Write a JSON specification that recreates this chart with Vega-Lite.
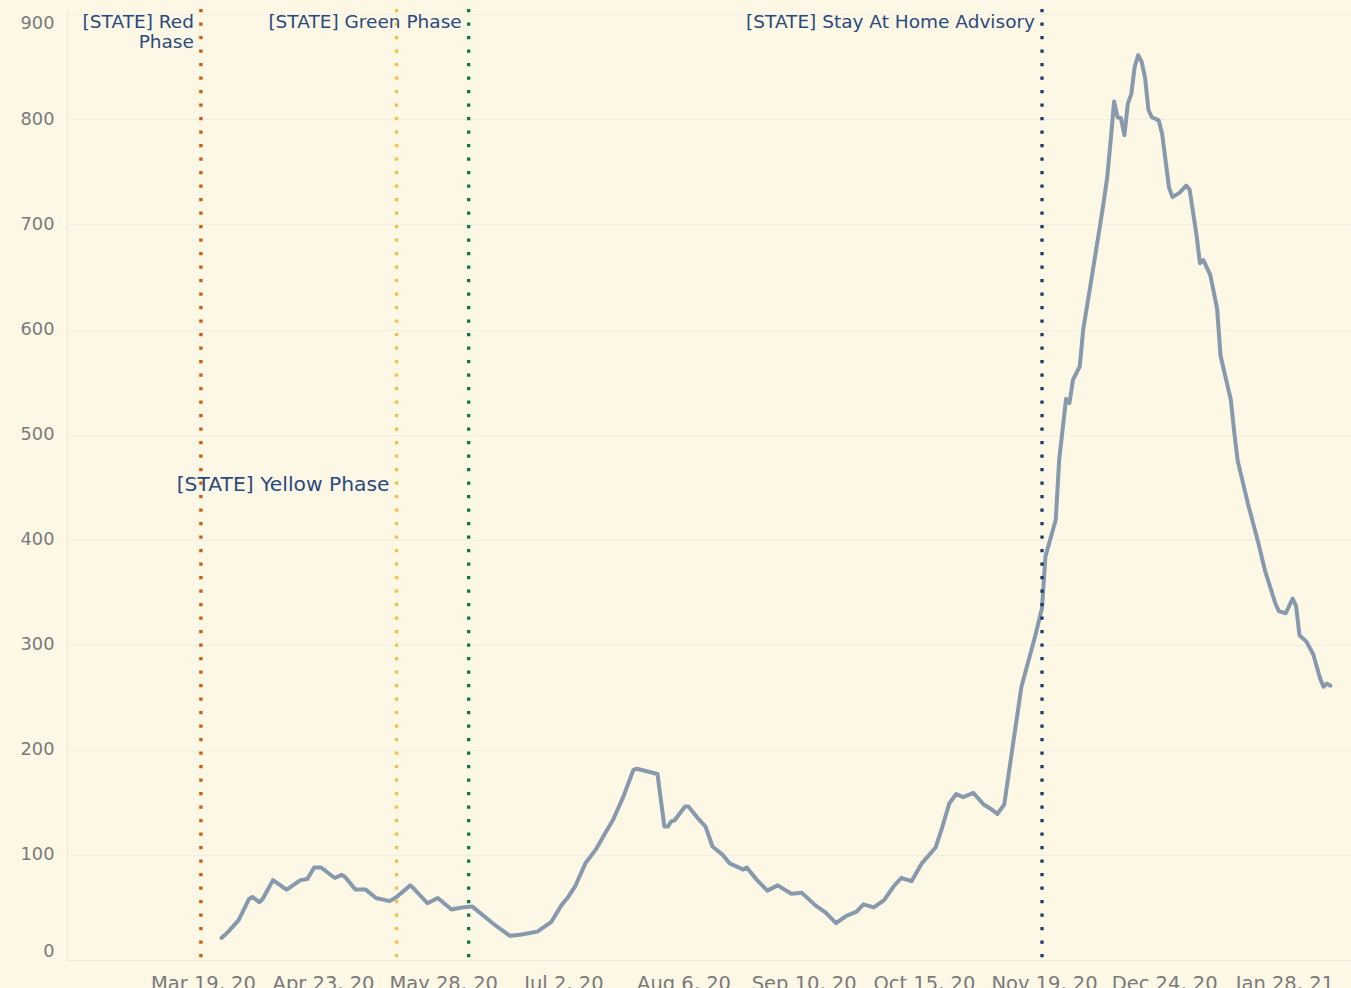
{
  "$schema": "https://vega.github.io/schema/vega-lite/v6.json",
  "width": 1284,
  "height": 951,
  "autosize": {"type": "none"},
  "padding": {"left": 67, "top": 9, "right": 0, "bottom": 28},
  "background": "#fdf7e5",
  "config": {"view": {"stroke": null}, "font": "DejaVu Sans"},
  "datasets": {
    "cases": [
      {"date": "2020-03-25", "value": 21}, {"date": "2020-03-27", "value": 27}, {"date": "2020-03-30", "value": 38},
      {"date": "2020-04-02", "value": 58}, {"date": "2020-04-03", "value": 60}, {"date": "2020-04-05", "value": 55},
      {"date": "2020-04-06", "value": 58}, {"date": "2020-04-09", "value": 76}, {"date": "2020-04-12", "value": 69},
      {"date": "2020-04-13", "value": 67}, {"date": "2020-04-17", "value": 76}, {"date": "2020-04-19", "value": 77},
      {"date": "2020-04-21", "value": 88}, {"date": "2020-04-23", "value": 88}, {"date": "2020-04-27", "value": 78},
      {"date": "2020-04-29", "value": 81}, {"date": "2020-04-30", "value": 79}, {"date": "2020-05-03", "value": 67},
      {"date": "2020-05-06", "value": 67}, {"date": "2020-05-09", "value": 59}, {"date": "2020-05-13", "value": 56},
      {"date": "2020-05-15", "value": 60}, {"date": "2020-05-19", "value": 71}, {"date": "2020-05-20", "value": 68},
      {"date": "2020-05-24", "value": 54}, {"date": "2020-05-27", "value": 59}, {"date": "2020-05-31", "value": 48},
      {"date": "2020-06-03", "value": 50}, {"date": "2020-06-06", "value": 51}, {"date": "2020-06-12", "value": 35},
      {"date": "2020-06-14", "value": 30}, {"date": "2020-06-17", "value": 23}, {"date": "2020-06-20", "value": 24},
      {"date": "2020-06-25", "value": 27}, {"date": "2020-06-29", "value": 36}, {"date": "2020-07-02", "value": 52},
      {"date": "2020-07-04", "value": 60}, {"date": "2020-07-06", "value": 70}, {"date": "2020-07-09", "value": 92},
      {"date": "2020-07-12", "value": 105}, {"date": "2020-07-15", "value": 122}, {"date": "2020-07-17", "value": 133},
      {"date": "2020-07-20", "value": 155}, {"date": "2020-07-23", "value": 181}, {"date": "2020-07-24", "value": 182},
      {"date": "2020-07-30", "value": 177}, {"date": "2020-08-01", "value": 127}, {"date": "2020-08-02", "value": 127},
      {"date": "2020-08-03", "value": 132}, {"date": "2020-08-04", "value": 133}, {"date": "2020-08-07", "value": 146},
      {"date": "2020-08-08", "value": 146}, {"date": "2020-08-11", "value": 134}, {"date": "2020-08-13", "value": 127},
      {"date": "2020-08-15", "value": 108}, {"date": "2020-08-18", "value": 100}, {"date": "2020-08-20", "value": 92},
      {"date": "2020-08-24", "value": 86}, {"date": "2020-08-25", "value": 88}, {"date": "2020-08-28", "value": 76},
      {"date": "2020-08-31", "value": 66}, {"date": "2020-09-03", "value": 71}, {"date": "2020-09-07", "value": 63},
      {"date": "2020-09-10", "value": 64}, {"date": "2020-09-14", "value": 52}, {"date": "2020-09-17", "value": 45},
      {"date": "2020-09-20", "value": 35}, {"date": "2020-09-23", "value": 42}, {"date": "2020-09-26", "value": 46},
      {"date": "2020-09-28", "value": 53}, {"date": "2020-10-01", "value": 50}, {"date": "2020-10-04", "value": 57},
      {"date": "2020-10-07", "value": 71}, {"date": "2020-10-09", "value": 78}, {"date": "2020-10-12", "value": 75},
      {"date": "2020-10-15", "value": 92}, {"date": "2020-10-19", "value": 107}, {"date": "2020-10-21", "value": 127},
      {"date": "2020-10-23", "value": 149}, {"date": "2020-10-25", "value": 158}, {"date": "2020-10-27", "value": 155},
      {"date": "2020-10-30", "value": 159}, {"date": "2020-11-02", "value": 148}, {"date": "2020-11-04", "value": 144},
      {"date": "2020-11-06", "value": 139}, {"date": "2020-11-08", "value": 148}, {"date": "2020-11-10", "value": 193},
      {"date": "2020-11-13", "value": 260}, {"date": "2020-11-17", "value": 308}, {"date": "2020-11-19", "value": 335},
      {"date": "2020-11-20", "value": 384}, {"date": "2020-11-23", "value": 419}, {"date": "2020-11-24", "value": 476},
      {"date": "2020-11-26", "value": 534}, {"date": "2020-11-27", "value": 530}, {"date": "2020-11-28", "value": 552},
      {"date": "2020-11-30", "value": 565}, {"date": "2020-12-01", "value": 600}, {"date": "2020-12-03", "value": 640},
      {"date": "2020-12-06", "value": 701}, {"date": "2020-12-07", "value": 722}, {"date": "2020-12-08", "value": 745},
      {"date": "2020-12-09", "value": 780}, {"date": "2020-12-10", "value": 817}, {"date": "2020-12-11", "value": 802},
      {"date": "2020-12-12", "value": 801}, {"date": "2020-12-13", "value": 785}, {"date": "2020-12-14", "value": 815},
      {"date": "2020-12-15", "value": 824}, {"date": "2020-12-16", "value": 850}, {"date": "2020-12-17", "value": 861},
      {"date": "2020-12-18", "value": 855}, {"date": "2020-12-19", "value": 840}, {"date": "2020-12-20", "value": 809},
      {"date": "2020-12-21", "value": 802}, {"date": "2020-12-23", "value": 799}, {"date": "2020-12-24", "value": 786},
      {"date": "2020-12-26", "value": 735}, {"date": "2020-12-27", "value": 726}, {"date": "2020-12-29", "value": 730},
      {"date": "2020-12-31", "value": 737}, {"date": "2021-01-01", "value": 733}, {"date": "2021-01-03", "value": 690},
      {"date": "2021-01-04", "value": 663}, {"date": "2021-01-05", "value": 666}, {"date": "2021-01-07", "value": 652},
      {"date": "2021-01-09", "value": 620}, {"date": "2021-01-10", "value": 575}, {"date": "2021-01-13", "value": 533},
      {"date": "2021-01-14", "value": 502}, {"date": "2021-01-15", "value": 475}, {"date": "2021-01-18", "value": 434},
      {"date": "2021-01-21", "value": 397}, {"date": "2021-01-23", "value": 370}, {"date": "2021-01-26", "value": 339},
      {"date": "2021-01-27", "value": 332}, {"date": "2021-01-29", "value": 330}, {"date": "2021-01-31", "value": 344},
      {"date": "2021-02-01", "value": 337}, {"date": "2021-02-02", "value": 309}, {"date": "2021-02-04", "value": 303},
      {"date": "2021-02-06", "value": 291}, {"date": "2021-02-08", "value": 268}, {"date": "2021-02-09", "value": 260},
      {"date": "2021-02-10", "value": 263}, {"date": "2021-02-11", "value": 261}
    ],
    "phases": [
      {"phase": "Red Phase", "date": "2020-03-19"},
      {"phase": "Yellow Phase", "date": "2020-05-15"},
      {"phase": "Green Phase", "date": "2020-06-05"},
      {"phase": "Stay At Home Advisory", "date": "2020-11-19"}
    ],
    "labels": [
      {"label": "[STATE] Red\nPhase", "date": "2020-03-19", "y": 901},
      {"label": "[STATE] Green Phase", "date": "2020-06-05", "y": 901},
      {"label": "[STATE] Stay At Home Advisory", "date": "2020-11-19", "y": 901},
      {"label": "[STATE] Yellow Phase", "date": "2020-05-15", "y": 462}
    ]
  },
  "layer": [
    {
      "data": {"name": "cases"},
      "mark": {"type": "line", "color": "#8799ad", "strokeWidth": 4, "strokeJoin": "round", "strokeCap": "round"},
      "encoding": {
        "x": {
          "field": "date", "type": "temporal", "title": null,
          "scale": {"type": "utc", "domain": [{"year": 2020, "month": 2, "date": 9, "utc": true}, {"year": 2021, "month": 2, "date": 17, "utc": true}], "nice": false},
          "axis": {
            "values": [
              {"year": 2020, "month": 3, "date": 19, "utc": true}, {"year": 2020, "month": 4, "date": 23, "utc": true},
              {"year": 2020, "month": 5, "date": 28, "utc": true}, {"year": 2020, "month": 7, "date": 2, "utc": true},
              {"year": 2020, "month": 8, "date": 6, "utc": true}, {"year": 2020, "month": 9, "date": 10, "utc": true},
              {"year": 2020, "month": 10, "date": 15, "utc": true}, {"year": 2020, "month": 11, "date": 19, "utc": true},
              {"year": 2020, "month": 12, "date": 24, "utc": true}, {"year": 2021, "month": 1, "date": 28, "utc": true}
            ],
            "format": "%b %-d, %y",
            "grid": false, "ticks": false, "tickSize": 0,
            "domainColor": "#ebe7dc", "labelColor": "#7a7a7a", "labelFontSize": 19.5, "labelPadding": 14,
            "labelFont": "DejaVu Sans", "labelOffset": 2
          }
        },
        "y": {
          "field": "value", "type": "quantitative", "title": null,
          "scale": {"domain": [0, 905], "nice": false},
          "axis": {
            "values": [0, 100, 200, 300, 400, 500, 600, 700, 800, 900],
            "grid": true, "gridColor": "#f1eee6", "ticks": false, "tickSize": 0,
            "domainColor": "#ebe7dc", "labelColor": "#7a7a7a", "labelFontSize": 17.8, "labelPadding": 13,
            "labelFlush": 10, "labelFont": "DejaVu Sans"
          }
        }
      }
    },
    {
      "data": {"name": "phases"},
      "mark": {"type": "rule", "strokeWidth": 3.3, "strokeDash": [3.3, 10.2], "strokeCap": "butt"},
      "encoding": {
        "x": {"field": "date", "type": "temporal"},
        "color": {
          "field": "phase", "type": "nominal", "legend": null,
          "scale": {"domain": ["Red Phase", "Yellow Phase", "Green Phase", "Stay At Home Advisory"], "range": ["#d4580a", "#f4c244", "#0c7a3f", "#1c3a6b"]}
        }
      }
    },
    {
      "data": {"name": "labels"},
      "transform": [{"filter": "datum.label != '[STATE] Yellow Phase'"}],
      "mark": {"type": "text", "align": "right", "baseline": "top", "dx": -7, "fontSize": 18.5, "lineHeight": 20, "lineBreak": "\n", "color": "#2b4a7e", "font": "DejaVu Sans"},
      "encoding": {
        "x": {"field": "date", "type": "temporal"},
        "y": {"field": "y", "type": "quantitative"},
        "text": {"field": "label"}
      }
    },
    {
      "data": {"name": "labels"},
      "transform": [{"filter": "datum.label == '[STATE] Yellow Phase'"}],
      "mark": {"type": "text", "align": "right", "baseline": "top", "dx": -7, "fontSize": 20.3, "color": "#2b4a7e", "font": "DejaVu Sans"},
      "encoding": {
        "x": {"field": "date", "type": "temporal"},
        "y": {"field": "y", "type": "quantitative"},
        "text": {"field": "label"}
      }
    }
  ]
}
